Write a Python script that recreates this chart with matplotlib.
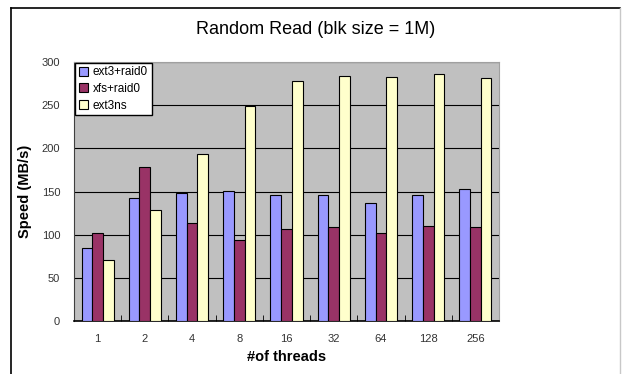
import matplotlib
matplotlib.use("Agg")
import matplotlib.pyplot as plt
import numpy as np

threads = ["1", "2", "4", "8", "16", "32", "64", "128", "256"]
ext3_raid0 = [85, 143, 148, 151, 146, 146, 137, 146, 153]
xfs_raid0 = [102, 178, 113, 94, 107, 109, 102, 110, 109]
ext3ns = [71, 128, 193, 249, 278, 284, 283, 286, 282]

series = [("ext3+raid0", ext3_raid0, "#9999FF"),
          ("xfs+raid0", xfs_raid0, "#993366"),
          ("ext3ns", ext3ns, "#FFFFCC")]

plt.rcParams['font.family'] = ['Liberation Sans', 'DejaVu Sans']

fig = plt.figure(figsize=(6.22, 3.74), dpi=100)
ax = fig.add_axes([74 / 622, 1 - 321 / 374, 425 / 622, 259 / 374])

# outer chart frame
fig.add_artist(plt.Line2D([11 / 622, 11 / 622], [0, 1 - 8 / 374], color="black", lw=1.2))
fig.add_artist(plt.Line2D([11 / 622, 620 / 622], [1 - 8 / 374, 1 - 8 / 374], color="black", lw=1.2))
fig.add_artist(plt.Line2D([620 / 622, 620 / 622], [0, 1 - 8 / 374], color="#c8c8c8", lw=1))

x = np.arange(len(threads))
w = 0.226
for i, (name, vals, col) in enumerate(series):
    ax.bar(x + (i - 1) * w, vals, w, color=col, edgecolor="black", linewidth=0.8,
           label=name, zorder=3)

ax.set_facecolor("#C0C0C0")
ax.set_xlim(-0.5, len(threads) - 0.5)
ax.set_ylim(0, 300)
ax.set_yticks(range(0, 301, 50))
ax.yaxis.grid(True, color="black", linewidth=0.8, zorder=1)
ax.set_xticks(x)
ax.set_xticklabels(threads)
ax.set_xticks(np.arange(len(threads) + 1) - 0.5, minor=True)
ax.tick_params(axis="x", which="major", length=0, pad=9, labelsize=8, labelcolor="#333333")
ax.tick_params(axis="x", which="minor", direction="in", length=4, color="black")
ax.tick_params(axis="y", length=0, pad=10, labelsize=8, labelcolor="#333333")

ax.spines["left"].set_color("#404040")
ax.spines["bottom"].set_color("black")
ax.spines["bottom"].set_linewidth(1.2)
ax.spines["top"].set_color("#a0a0a0")
ax.spines["right"].set_color("#a0a0a0")

fig.text(316 / 622, 1 - 30 / 374, "Random Read (blk size = 1M)", fontsize=13,
         ha="center", va="center")
ax.set_ylabel("Speed (MB/s)", fontsize=10.5, fontweight="bold", labelpad=7)
ax.set_xlabel("#of threads", fontsize=10.5, fontweight="bold", labelpad=5)

leg = ax.legend(loc="upper left", bbox_to_anchor=(0.003, 0.997), fontsize=8.5,
                frameon=True, fancybox=False, framealpha=1, edgecolor="black",
                handlelength=0.8, handleheight=0.8, handletextpad=0.4,
                borderpad=0.3, labelspacing=0.4, borderaxespad=0)
leg.get_frame().set_linewidth(1)

fig.savefig("out.png", dpi=100)
